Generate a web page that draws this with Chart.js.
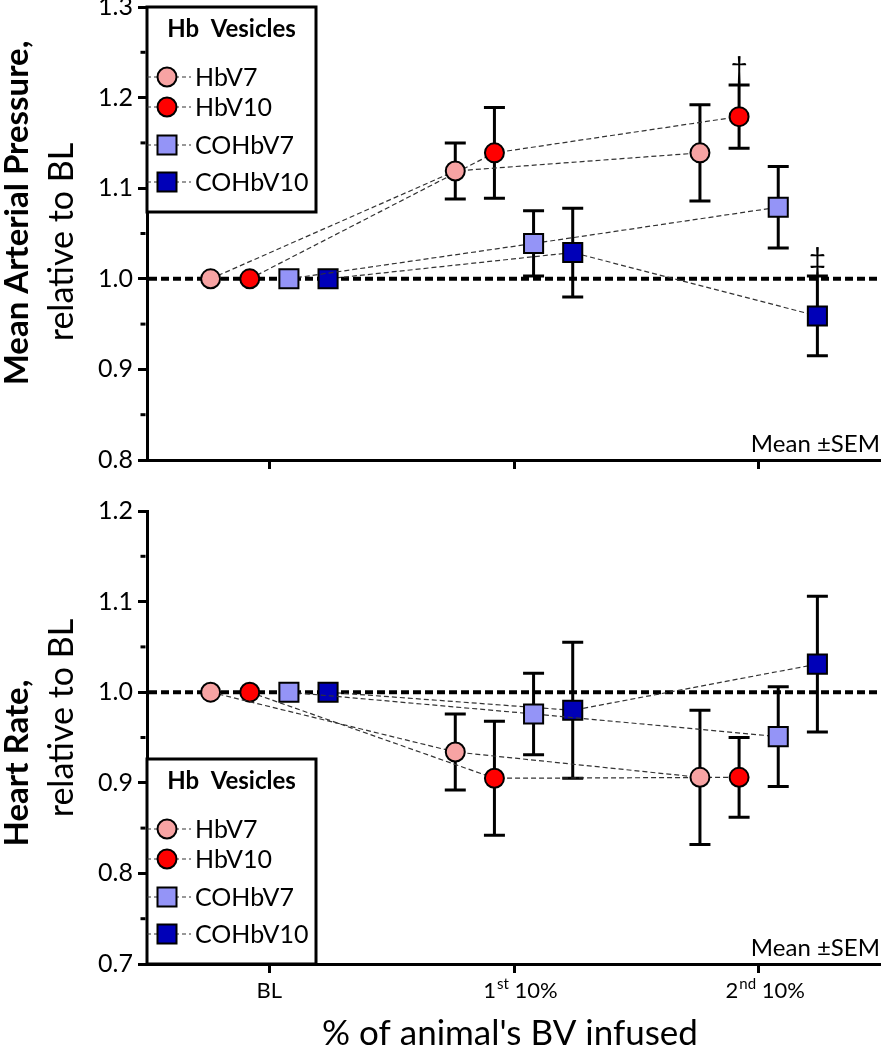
<!DOCTYPE html>
<html>
<head>
<meta charset="UTF-8">
<title>Hb vesicles - MAP and HR</title>
<script src="https://cdn.jsdelivr.net/npm/chart.js@4/dist/chart.umd.min.js"></script>
<style>
  body { margin: 0; background: #fff; }
  #wrap { position: relative; width: 881px; height: 1050px; }
  canvas { position: absolute; left: 0; }
</style>
</head>
<body>
<div id="wrap">
  <canvas id="map" width="881" height="476" style="top:0px"></canvas>
  <canvas id="hr" width="881" height="574" style="top:476px"></canvas>
</div>
<script>
const categories = ['BL', '1st 10%', '2nd 10%'];
const seriesNames = ['HbV7', 'HbV10', 'COHbV7', 'COHbV10'];

// mean arterial pressure, relative to BL
const mapHbV7 = [1.00, 1.119, 1.139];
const mapHbV10 = [1.00, 1.139, 1.179];
const mapCOHbV7 = [1.00, 1.039, 1.079];
const mapCOHbV10 = [1.00, 1.029, 0.959];
const mapSemHbV7 = [0, 0.031, 0.053];
const mapSemHbV10 = [0, 0.050, 0.035];
const mapSemCOHbV7 = [0, 0.036, 0.045];
const mapSemCOHbV10 = [0, 0.049, 0.044];
const mapMarkHbV10 = ['', '', '\u2020'];
const mapMarkCOHbV10 = ['', '', '\u2021'];
const mapYTicks = [0.8, 0.9, 1.0, 1.1, 1.2, 1.3];

// heart rate, relative to BL
const hrHbV7 = [1.00, 0.934, 0.906];
const hrHbV10 = [1.00, 0.905, 0.906];
const hrCOHbV7 = [1.00, 0.976, 0.951];
const hrCOHbV10 = [1.00, 0.980, 1.031];
const hrSemHbV7 = [0, 0.042, 0.074];
const hrSemHbV10 = [0, 0.063, 0.044];
const hrSemCOHbV7 = [0, 0.045, 0.055];
const hrSemCOHbV10 = [0, 0.075, 0.075];
const hrYTicks = [0.7, 0.8, 0.9, 1.0, 1.1, 1.2];

// look
const seriesOffsets = [-0.24, -0.08, 0.08, 0.24];
const colors = ['#F7A3A3', '#FF0000', '#9494F7', '#0000B8'];
const shapes = ['circle', 'circle', 'rect', 'rect'];
const FONT = 'Lato, "Open Sans", sans-serif';

Chart.defaults.font.family = FONT;
Chart.defaults.color = '#000';

function drawMarker(ctx, shape, x, y, color) {
  ctx.save();
  ctx.fillStyle = color;
  ctx.strokeStyle = '#000';
  ctx.lineWidth = 2;
  ctx.setLineDash([]);
  ctx.beginPath();
  if (shape === 'circle') ctx.arc(x, y, 9.5, 0, Math.PI * 2);
  else ctx.rect(x - 9.5, y - 9.5, 19, 19);
  ctx.fill();
  ctx.stroke();
  ctx.restore();
}

// dashed 1.0 line, error bars, significance marks
const errorBars = {
  id: 'errorBars',
  beforeDatasetsDraw(chart) {
    const {ctx, chartArea, scales: {x, y}} = chart;
    ctx.save();
    const yb = y.getPixelForValue(1.0);
    ctx.strokeStyle = '#000';
    ctx.lineWidth = 4;
    ctx.setLineDash([8, 4]);
    ctx.beginPath();
    ctx.moveTo(chartArea.left + 2, yb);
    ctx.lineTo(chartArea.right, yb);
    ctx.stroke();
    ctx.setLineDash([]);
    ctx.lineWidth = 3;
    chart.data.datasets.forEach(ds => {
      ds.data.forEach((p, i) => {
        const e = ds.sem[i];
        if (!e) return;
        const px = x.getPixelForValue(p.x);
        const top = y.getPixelForValue(p.y + e);
        const bot = y.getPixelForValue(p.y - e);
        ctx.beginPath();
        ctx.moveTo(px, top); ctx.lineTo(px, bot);
        ctx.moveTo(px - 10.5, top); ctx.lineTo(px + 10.5, top);
        ctx.moveTo(px - 10.5, bot); ctx.lineTo(px + 10.5, bot);
        ctx.stroke();
      });
    });
    ctx.restore();
  },
  afterDatasetsDraw(chart) {
    const {ctx, scales: {x, y}} = chart;
    ctx.save();
    ctx.fillStyle = '#000';
    ctx.font = '30px ' + FONT;
    ctx.textAlign = 'center';
    ctx.textBaseline = 'bottom';
    chart.data.datasets.forEach(ds => {
      if (!ds.marks) return;
      ds.data.forEach((p, i) => {
        if (!ds.marks[i]) return;
        const px = x.getPixelForValue(p.x);
        const top = y.getPixelForValue(p.y + ds.sem[i]);
        ctx.fillText(ds.marks[i], px, top - 1);
      });
    });
    ctx.restore();
  }
};

const hbLegend = {
  id: 'hbLegend',
  afterDatasetsDraw(chart, args, opts) {
    const {ctx, chartArea} = chart;
    const w = 169, h = 205;
    const left = chartArea.left;
    const top = opts.anchor === 'bottom' ? chartArea.bottom - h : chartArea.top;
    const rows = [70, 100, 138, 175];
    ctx.save();
    ctx.fillStyle = '#fff';
    ctx.fillRect(left, top, w, h);
    ctx.lineWidth = 3;
    ctx.strokeStyle = '#000';
    ctx.strokeRect(left, top, w, h);
    ctx.fillStyle = '#000';
    ctx.font = 'bold 24px ' + FONT;
    ctx.textAlign = 'center';
    ctx.textBaseline = 'middle';
    ctx.fillText('Hb  Vesicles', left + w / 2, top + 22);
    ctx.font = '25px ' + FONT;
    ctx.textAlign = 'left';
    chart.data.datasets.forEach((ds, s) => {
      const yy = top + rows[s];
      ctx.strokeStyle = '#333';
      ctx.lineWidth = 1.2;
      ctx.setLineDash([4, 3]);
      ctx.beginPath();
      ctx.moveTo(left, yy);
      ctx.lineTo(left + 44, yy);
      ctx.stroke();
      ctx.setLineDash([]);
      drawMarker(ctx, shapes[s], left + 20, yy, colors[s]);
      ctx.fillStyle = '#000';
      ctx.fillText(ds.label, left + 48, yy + 1);
    });
    ctx.restore();
  }
};

// axis titles, minor ticks, "Mean ±SEM", x labels
const panelText = {
  id: 'panelText',
  afterDraw(chart, args, opts) {
    const {ctx, chartArea, scales: {x, y}} = chart;
    ctx.save();
    ctx.fillStyle = '#000';
    ctx.strokeStyle = '#000';

    // minor ticks between the labelled ones
    ctx.lineWidth = 3;
    const ticks = y.ticks.map(t => t.value);
    for (let i = 0; i < ticks.length - 1; i++) {
      const py = y.getPixelForValue((ticks[i] + ticks[i + 1]) / 2);
      ctx.beginPath();
      ctx.moveTo(chartArea.left - 1.5, py);
      ctx.lineTo(chartArea.left - 6.5, py);
      ctx.stroke();
    }

    // y titles
    ctx.textAlign = 'center';
    ctx.textBaseline = 'middle';
    ctx.save();
    ctx.translate(17, opts.boldY);
    ctx.rotate(-Math.PI / 2);
    ctx.font = 'bold 33px ' + FONT;
    ctx.fillText(opts.bold, 0, 0);
    ctx.restore();
    ctx.save();
    ctx.translate(62, opts.normalY);
    ctx.rotate(-Math.PI / 2);
    ctx.font = '34px ' + FONT;
    ctx.fillText(opts.normal, 0, 0);
    ctx.restore();

    // Mean ±SEM
    ctx.font = '24px ' + FONT;
    ctx.textAlign = 'right';
    ctx.textBaseline = 'alphabetic';
    ctx.fillText('Mean \u00B1SEM', 880, chartArea.bottom - 8);

    if (opts.xLabels) {
      const base = chartArea.bottom + 34;
      categories.forEach((c, i) => {
        const px = x.getPixelForValue(i);
        const m = c.match(/^(\d)(st|nd|rd|th) (.*)$/);
        ctx.textAlign = 'left';
        ctx.font = '22px ' + FONT;
        if (!m) {
          const w = ctx.measureText(c).width;
          ctx.fillText(c, px - w / 2, base);
          return;
        }
        const w1 = ctx.measureText(m[1]).width;
        const w3 = ctx.measureText(' ' + m[3]).width;
        ctx.font = '15px ' + FONT;
        const w2 = ctx.measureText(m[2]).width;
        const sx = px - (w1 + w2 + w3) / 2 + 6;
        ctx.font = '22px ' + FONT;
        ctx.fillText(m[1], sx, base);
        ctx.font = '15px ' + FONT;
        ctx.fillText(m[2], sx + w1 + 1, base - 9);
        ctx.font = '22px ' + FONT;
        ctx.fillText(' ' + m[3], sx + w1 + w2 + 1, base);
      });
      ctx.textAlign = 'center';
      ctx.font = '35px ' + FONT;
      ctx.fillText("% of animal's BV infused", 510, chartArea.bottom + 81);
    }
    ctx.restore();
  }
};

function makeChart(id, means, sems, marks, yTicks, opts) {
  return new Chart(document.getElementById(id), {
    type: 'scatter',
    data: {
      datasets: seriesNames.map((name, s) => ({
        label: name,
        data: categories.map((c, i) => ({x: i + seriesOffsets[s], y: means[s][i]})),
        sem: sems[s],
        marks: marks[s],
        showLine: true,
        borderColor: '#333',
        borderWidth: 1.2,
        borderDash: [5, 3],
        pointStyle: shapes[s],
        pointRadius: shapes[s] === 'rect' ? 13.5 : 9.5,
        pointBackgroundColor: colors[s],
        pointBorderColor: '#000',
        pointBorderWidth: 2,
        clip: false
      }))
    },
    options: {
      responsive: false,
      animation: false,
      events: [],
      layout: {autoPadding: false, padding: {top: opts.padTop, left: 0, right: 0, bottom: 0}},
      plugins: {
        legend: {display: false},
        tooltip: {enabled: false},
        hbLegend: {anchor: opts.legend},
        panelText: opts.text
      },
      scales: {
        x: {
          type: 'linear',
          min: -0.5,
          max: 2.5,
          afterBuildTicks: s => { s.ticks = categories.map((c, i) => ({value: i})); },
          ticks: {display: false},
          grid: {drawOnChartArea: false, tickLength: 9, tickWidth: 3, tickColor: '#000'},
          border: {color: '#000', width: 3},
          afterFit: s => { s.height = opts.xHeight; s.paddingLeft = 0; s.paddingRight = 0; }
        },
        y: {
          min: yTicks[0],
          max: yTicks[yTicks.length - 1],
          afterBuildTicks: s => { s.ticks = yTicks.map(v => ({value: v})); },
          ticks: {color: '#000', font: {size: 25}, padding: 5, callback: v => v.toFixed(1)},
          grid: {drawOnChartArea: false, tickLength: 9, tickWidth: 3, tickColor: '#000'},
          border: {color: '#000', width: 3},
          afterFit: s => { s.width = 147; s.paddingTop = 0; s.paddingBottom = 0; }
        }
      }
    },
    plugins: [errorBars, hbLegend, panelText]
  });
}

makeChart('map',
  [mapHbV7, mapHbV10, mapCOHbV7, mapCOHbV10],
  [mapSemHbV7, mapSemHbV10, mapSemCOHbV7, mapSemCOHbV10],
  [null, mapMarkHbV10, null, mapMarkCOHbV10],
  mapYTicks,
  {padTop: 7, xHeight: 16, legend: 'top',
   text: {bold: 'Mean Arterial Pressure,', normal: 'relative to BL', boldY: 213, normalY: 242, xLabels: false}});

makeChart('hr',
  [hrHbV7, hrHbV10, hrCOHbV7, hrCOHbV10],
  [hrSemHbV7, hrSemHbV10, hrSemCOHbV7, hrSemCOHbV10],
  [null, null, null, null],
  hrYTicks,
  {padTop: 35, xHeight: 86, legend: 'bottom',
   text: {bold: 'Heart Rate,', normal: 'relative to BL', boldY: 287, normalY: 242, xLabels: true}});
</script>
</body>
</html>
